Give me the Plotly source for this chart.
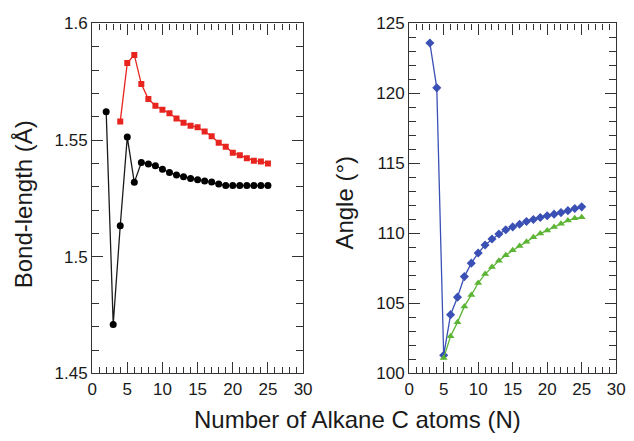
import plotly.graph_objects as go

# Left panel: bond lengths
n_black = list(range(2, 26))
bond_black = [1.5622, 1.4710, 1.5133, 1.5513, 1.5319, 1.5404, 1.5398, 1.5390, 1.5375,
              1.5361, 1.5351, 1.5343, 1.5336, 1.5330, 1.5325, 1.5320, 1.5312, 1.5306,
              1.5305, 1.5305, 1.5305, 1.5305, 1.5305, 1.5305]
n_red = list(range(4, 26))
bond_red = [1.5580, 1.5830, 1.5865, 1.5740, 1.5676, 1.5647, 1.5630, 1.5615, 1.5593,
            1.5574, 1.5562, 1.5555, 1.5537, 1.5517, 1.5489, 1.5472, 1.5446, 1.5435,
            1.5422, 1.5412, 1.5408, 1.5400]

# Right panel: angles
n_blue = list(range(3, 26))
angle_blue = [123.6, 120.4, 101.3, 104.2, 105.45, 106.92, 107.88, 108.6, 109.18, 109.6,
              109.96, 110.26, 110.47, 110.66, 110.85, 111.0, 111.14, 111.26, 111.38,
              111.49, 111.63, 111.78, 111.9]
n_green = list(range(5, 26))
angle_green = [101.1, 102.66, 103.65, 104.79, 105.6, 106.46, 107.1, 107.6, 108.05,
               108.45, 108.8, 109.1, 109.4, 109.73, 109.99, 110.22, 110.47, 110.7,
               110.92, 111.08, 111.15]

x_ticks = [0, 5, 10, 15, 20, 25, 30]
left_y_ticks = [1.45, 1.5, 1.55, 1.6]
left_y_labels = ["1.45", "1.5", "1.55", "1.6"]
right_y_ticks = [100, 105, 110, 115, 120, 125]

FONT = "Liberation Sans, Arial, Helvetica, sans-serif"

fig = go.Figure()
fig.add_trace(go.Scatter(x=n_black, y=bond_black, mode="lines+markers",
                         line=dict(color="#1a1a1a", width=1.3),
                         marker=dict(symbol="circle", size=7, color="#000000"),
                         xaxis="x", yaxis="y", showlegend=False))
fig.add_trace(go.Scatter(x=n_red, y=bond_red, mode="lines+markers",
                         line=dict(color="#e8241f", width=1.3),
                         marker=dict(symbol="square", size=6, color="#e8241f"),
                         xaxis="x", yaxis="y", showlegend=False))
fig.add_trace(go.Scatter(x=n_blue, y=angle_blue, mode="lines+markers",
                         line=dict(color="#3a50b4", width=1.3),
                         marker=dict(symbol="diamond", size=7, color="#3a50b4"),
                         xaxis="x2", yaxis="y2", showlegend=False))
fig.add_trace(go.Scatter(x=n_green, y=angle_green, mode="lines+markers",
                         line=dict(color="#5cb535", width=1.3),
                         marker=dict(symbol="triangle-up", size=7, color="#5cb535"),
                         xaxis="x2", yaxis="y2", showlegend=False))

common_axis = dict(showgrid=False, zeroline=False, showline=True, linecolor="#333333",
                   linewidth=1.2, mirror="ticks", ticks="inside", tickcolor="#333333",
                   tickwidth=1.2, ticklen=11, ticklabeloverflow="allow",
                   tickfont=dict(family=FONT, size=17, color="#1a1a1a"))

fig.update_layout(
    width=634, height=441, autosize=False,
    margin=dict(l=0, r=0, t=0, b=0),
    paper_bgcolor="white", plot_bgcolor="white",
    xaxis=dict(domain=[0.1405, 0.4808], range=[0, 30], tickvals=x_ticks,
               minor=dict(dtick=1, ticks="inside", ticklen=6, tickcolor="#333333", tickwidth=1.1),
               anchor="y", **common_axis),
    yaxis=dict(domain=[0.1363, 0.9658], range=[1.45, 1.6], tickvals=left_y_ticks,
               ticktext=left_y_labels,
               minor=dict(dtick=0.01, ticks="inside", ticklen=7, tickcolor="#333333", tickwidth=1.1),
               anchor="x", **common_axis),
    xaxis2=dict(domain=[0.6519, 0.9858], range=[0, 30], tickvals=x_ticks,
                minor=dict(dtick=1, ticks="inside", ticklen=6, tickcolor="#333333", tickwidth=1.1),
                anchor="y2", **common_axis),
    yaxis2=dict(domain=[0.1363, 0.9658], range=[100, 125], tickvals=right_y_ticks,
                minor=dict(dtick=1, ticks="inside", ticklen=7, tickcolor="#333333", tickwidth=1.1),
                anchor="x2", **common_axis),
    annotations=[
        dict(text="Number of Alkane C atoms (N)", x=360 / 634, y=1 - 428.5 / 441,
             xref="paper", yref="paper", showarrow=False, xanchor="center", yanchor="middle",
             font=dict(family=FONT, size=24, color="#1a1a1a")),
        dict(text="Bond-length (Å)", x=19 / 634, y=1 - 204.5 / 441, xref="paper", yref="paper",
             textangle=-90, showarrow=False, xanchor="center", yanchor="middle",
             font=dict(family=FONT, size=24, color="#1a1a1a")),
        dict(text="Angle (°)", x=347.5 / 634, y=1 - 202.5 / 441, xref="paper", yref="paper",
             textangle=-90, showarrow=False, xanchor="center", yanchor="middle",
             font=dict(family=FONT, size=24, color="#1a1a1a")),
    ],
)

fig.write_html("out.html",
               config={"displayModeBar": False, "responsive": False},
               post_script=("document.documentElement.style.margin='0';"
                            "document.documentElement.style.overflow='hidden';"
                            "document.body.style.margin='0';"
                            "document.body.style.padding='0';"
                            "document.body.style.overflow='hidden';"))
